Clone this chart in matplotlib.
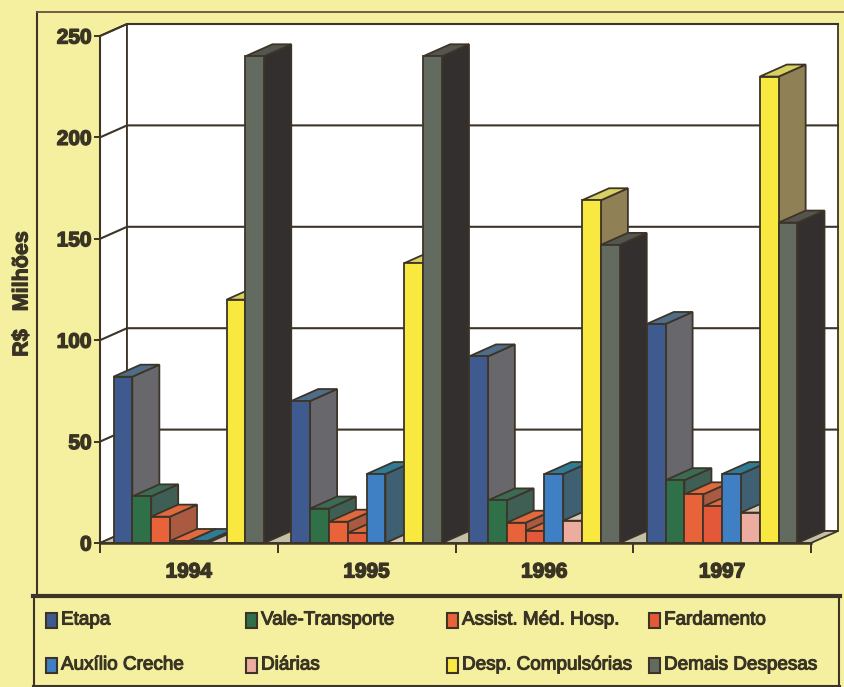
import matplotlib
matplotlib.use('Agg')
import matplotlib.pyplot as plt
import matplotlib.patheffects as pe
from matplotlib.lines import Line2D
from matplotlib.patches import Rectangle

anos = ['1994', '1995', '1996', '1997']
series = ['Etapa', 'Vale-Transporte', 'Assist. Méd. Hosp.', 'Fardamento',
          'Auxílio Creche', 'Diárias', 'Desp. Compulsórias', 'Demais Despesas']

etapa = [82, 70, 92, 108]
vale = [23, 17, 21, 31]
assist = [13, 10.5, 10, 24]
fardamento = [1, 5, 6, 18]
creche = [1, 34, 34, 34]
diarias = [0, 0, 11, 15]
compulsorias = [120, 138, 169, 230]
demais = [240, 240, 147, 158]
valores = [etapa, vale, assist, fardamento, creche, diarias, compulsorias, demais]

# frente, lado, topo
cor_frente = ['#3f5a8e', '#2f7048', '#e8623a', '#e4583a', '#3f80c4', '#ecaca0', '#f8e840', '#636b60']
cor_lado = ['#68686c', '#3f5f55', '#a95a40', '#a95a40', '#3f6072', '#c8b8a0', '#8f8155', '#332f2e']
cor_topo = ['#4f6d88', '#3b6a55', '#e06a3e', '#e06a3e', '#2f7a95', '#d8c8b8', '#d8d060', '#55554f']

FUNDO = '#f4f0a0'
LINHA = '#3d3428'
TEXTO = '#3a3424'
W, H = 844, 687
PX_X = 177.75  # pixels por ano
PX_Y = 2.028   # pixels por R$ milhao
dx = 27 / PX_X
dy = 12 / PX_Y
larg = 0.106
folga = (1 - 8 * larg) / 2

plt.rcParams['font.family'] = ['Liberation Sans', 'DejaVu Sans']
fig = plt.figure(figsize=(W / 100, H / 100), dpi=100, facecolor=FUNDO)
ax = fig.add_axes([100 / W, 1 - 543 / H, 711 / W, 507 / H])
ax.set_xlim(0, 4)
ax.set_ylim(0, 250)
ax.patch.set_visible(False)
for s in ax.spines.values():
    s.set_visible(False)

# paredes e piso
kw = dict(clip_on=False, edgecolor=LINHA, linewidth=1.3)
ax.fill([0, dx, dx, 0], [0, dy, 250 + dy, 250], facecolor='white', zorder=1, **kw)
ax.fill([dx, 4 + dx, 4 + dx, dx], [dy, dy, 250 + dy, 250 + dy], facecolor='white', zorder=1, **kw)
ax.fill([0, 4, 4 + dx, dx], [0, 0, dy, dy], facecolor='#c4c0a8', zorder=2, **kw)

for v in [50, 100, 150, 200, 250]:
    ax.plot([0, dx, 4 + dx], [v, v + dy, v + dy], color=LINHA, lw=1.5, clip_on=False, zorder=2)

# barras da esquerda para a direita, cada uma cobre o lado da anterior
z = 3
for i in range(len(anos)):
    for j in range(len(series)):
        v = valores[j][i]
        x0 = i + folga + j * larg
        x1 = x0 + larg
        ax.fill([x1, x1 + dx, x1 + dx, x1], [0, dy, v + dy, v], facecolor=cor_lado[j], zorder=z, **kw)
        ax.fill([x0, x1, x1 + dx, x0 + dx], [v, v, v + dy, v + dy], facecolor=cor_topo[j], zorder=z, **kw)
        ax.bar(x0, v, larg, align='edge', color=cor_frente[j], edgecolor=LINHA, linewidth=1.3,
               clip_on=False, zorder=z)
        z += 1

# eixos frontais
ax.plot([0, 0], [0, 250], color=LINHA, lw=1.5, clip_on=False, zorder=50)
ax.plot([0, 4], [0, 0], color=LINHA, lw=1.8, clip_on=False, zorder=50)

negrito = [pe.withStroke(linewidth=1.0, foreground=TEXTO)]
ax.set_yticks([0, 50, 100, 150, 200, 250])
ax.set_xticks([0, 1, 2, 3, 4])
ax.set_xticklabels([])
ax.set_xticks([0.5, 1.5, 2.5, 3.5], labels=anos, minor=True)
ax.tick_params(axis='y', length=4, width=1.4, color=LINHA, labelcolor=TEXTO, labelsize=15, pad=2)
ax.tick_params(axis='x', which='major', length=7, width=1.4, color=LINHA)
ax.tick_params(axis='x', which='minor', length=0, labelcolor=TEXTO, labelsize=15, pad=14)
for t in ax.get_yticklabels() + ax.get_xticklabels(minor=True):
    t.set_fontweight('bold')
    t.set_path_effects(negrito)
ax.set_ylabel('R$   Milhões', fontsize=15.5, fontweight='bold', color=TEXTO,
              path_effects=[pe.withStroke(linewidth=0.8, foreground=TEXTO)])
ax.yaxis.set_label_coords(22 / W, 1 - 294 / H, transform=fig.transFigure)
ax.yaxis.label.set_va('center')


def px(x, y):
    return x / W, 1 - y / H


def linha(x0, y0, x1, y1, lw=1.5, cor=LINHA):
    a, b = px(x0, y0)
    c, d = px(x1, y1)
    fig.add_artist(Line2D([a, c], [b, d], color=cor, lw=lw))


# moldura externa e caixa da legenda
linha(37, 12, 37, 595)
linha(37, 12, W, 12, lw=1.3, cor='#6b5040')
linha(33, 596, 840, 596, lw=3)
linha(34, 596, 34, 686)
linha(839, 596, 839, 686)
linha(33, 686, 840, 686)

# legenda
leg_x = [46, 246, 447, 649]
leg_y = [620, 665]
for j, nome in enumerate(series):
    col = j % 4
    lin = j // 4
    x, y = px(leg_x[col], leg_y[lin] + 8)
    fig.add_artist(Rectangle((x, y), 11 / W, 15 / H, transform=fig.transFigure,
                             facecolor=cor_frente[j], edgecolor=LINHA, linewidth=1.5))
    tx, ty = px(leg_x[col] + 15, leg_y[lin])
    fig.text(tx, ty, nome, fontsize=13.6, color=TEXTO, va='center', ha='left',
             path_effects=[pe.withStroke(linewidth=0.8, foreground=TEXTO)])

fig.savefig('out.png', dpi=100, facecolor=FUNDO)
